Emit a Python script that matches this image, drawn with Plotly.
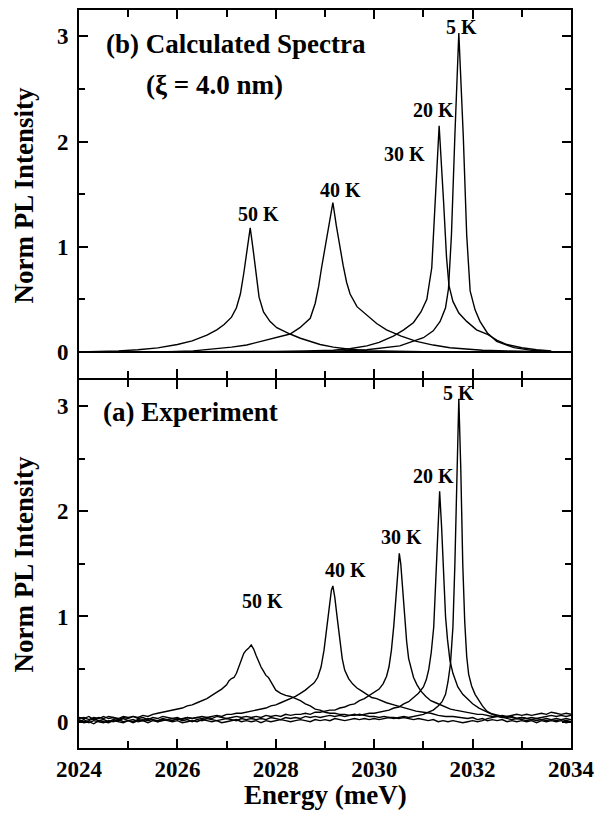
import plotly.graph_objects as go

# ---------------- data ----------------
# Calculated spectra (top panel, (b)) : (energy meV, norm PL intensity)
CALC_50K = [(2024.0, 0.0), (2024.4, 0.004), (2024.8, 0.01), (2025.2, 0.02), (2025.6, 0.038),
            (2026.0, 0.07), (2026.3, 0.105), (2026.6, 0.16), (2026.8, 0.21), (2026.95, 0.26),
            (2027.1, 0.33), (2027.2, 0.42), (2027.28, 0.55), (2027.35, 0.75), (2027.42, 0.97),
            (2027.48, 1.18), (2027.54, 0.97), (2027.6, 0.72), (2027.66, 0.52), (2027.75, 0.38),
            (2027.88, 0.29), (2028.02, 0.23), (2028.15, 0.2), (2028.29, 0.17), (2028.5, 0.13),
            (2028.7, 0.10), (2028.9, 0.07), (2029.17, 0.045), (2029.5, 0.025), (2029.85, 0.012),
            (2030.3, 0.006), (2031.0, 0.002), (2032.0, 0.0), (2033.5, 0.0)]
CALC_40K = [(2024.0, 0.0), (2025.0, 0.0), (2025.8, 0.003), (2026.32, 0.01), (2026.8, 0.03),
            (2027.1, 0.045), (2027.41, 0.066), (2027.8, 0.11), (2028.1, 0.15), (2028.29, 0.17),
            (2028.49, 0.23), (2028.7, 0.32), (2028.8, 0.46), (2028.87, 0.62), (2028.93, 0.80),
            (2029.0, 1.0), (2029.08, 1.22), (2029.16, 1.42), (2029.23, 1.2), (2029.3, 0.99),
            (2029.37, 0.82), (2029.44, 0.66), (2029.51, 0.55), (2029.65, 0.43), (2029.85, 0.35),
            (2030.05, 0.27), (2030.25, 0.21), (2030.55, 0.15), (2030.86, 0.10), (2031.2, 0.065),
            (2031.54, 0.04), (2031.9, 0.025), (2032.2, 0.015), (2032.7, 0.008), (2033.5, 0.003)]
CALC_20K = [(2024.0, 0.0), (2027.0, 0.0), (2028.0, 0.005), (2028.6, 0.008), (2029.17, 0.015),
            (2029.5, 0.03), (2029.85, 0.057), (2030.1, 0.09), (2030.39, 0.15), (2030.6, 0.21),
            (2030.8, 0.28), (2030.95, 0.38), (2031.07, 0.50), (2031.17, 0.80), (2031.24, 1.43),
            (2031.32, 2.15), (2031.41, 1.43), (2031.47, 0.9), (2031.52, 0.63), (2031.6, 0.48),
            (2031.72, 0.37), (2031.88, 0.29), (2032.08, 0.21), (2032.29, 0.17), (2032.5, 0.11),
            (2032.7, 0.07), (2033.0, 0.04), (2033.3, 0.02), (2033.6, 0.01)]
CALC_5K = [(2024.0, 0.0), (2029.0, 0.002), (2029.85, 0.02), (2030.52, 0.057), (2031.0, 0.135),
           (2031.2, 0.2), (2031.34, 0.29), (2031.45, 0.42), (2031.51, 0.6), (2031.57, 1.11),
           (2031.64, 2.06), (2031.72, 3.03), (2031.81, 2.06), (2031.88, 1.11), (2031.95, 0.58),
           (2032.05, 0.4), (2032.15, 0.29), (2032.3, 0.18), (2032.49, 0.10), (2032.84, 0.04),
           (2033.2, 0.015), (2033.55, 0.005)]

# Experimental spectra (bottom panel, (a))
EXP_5K = [(2024.0, 0.01), (2024.1, -0.01), (2024.2, 0.0), (2024.3, -0.02), (2024.4, 0.01), (2024.5, 0.0),
          (2024.6, -0.01), (2024.7, 0.01), (2024.8, 0.0), (2024.9, -0.01), (2025.0, 0.01), (2025.1, 0.02),
          (2025.2, 0.0), (2025.3, 0.01), (2025.4, -0.01), (2025.5, 0.01), (2025.6, 0.0), (2025.7, 0.02),
          (2025.8, 0.01), (2025.9, 0.0), (2026.0, 0.01), (2026.1, -0.01), (2026.2, 0.0), (2026.3, 0.01),
          (2026.4, 0.0), (2026.5, 0.02), (2026.6, 0.01), (2026.7, 0.0), (2026.8, 0.01), (2026.9, -0.01),
          (2027.0, 0.0), (2027.1, 0.01), (2027.2, 0.02), (2027.3, 0.0), (2027.4, 0.01), (2027.5, 0.0),
          (2027.6, 0.01), (2027.7, -0.01), (2027.8, 0.01), (2027.9, 0.0), (2028.0, 0.01), (2028.1, 0.02),
          (2028.2, 0.01), (2028.3, 0.0), (2028.4, 0.01), (2028.5, 0.02), (2028.6, 0.01), (2028.7, 0.0),
          (2028.8, 0.02), (2028.9, 0.01), (2029.0, 0.02), (2029.1, 0.01), (2029.2, 0.03), (2029.3, 0.02),
          (2029.4, 0.01), (2029.5, 0.02), (2029.6, 0.03), (2029.7, 0.02), (2029.8, 0.03), (2029.9, 0.02),
          (2030.0, 0.03), (2030.1, 0.02), (2030.2, 0.03), (2030.3, 0.04), (2030.4, 0.03), (2030.5, 0.04),
          (2030.6, 0.05), (2030.7, 0.04), (2030.8, 0.05), (2030.9, 0.06), (2031.0, 0.07), (2031.1, 0.09),
          (2031.2, 0.11), (2031.3, 0.15), (2031.38, 0.19), (2031.45, 0.26), (2031.5, 0.38), (2031.55, 0.55),
          (2031.6, 0.9), (2031.64, 1.5), (2031.68, 2.2), (2031.72, 3.07), (2031.76, 2.4), (2031.8, 1.5),
          (2031.84, 0.95), (2031.88, 0.62), (2031.92, 0.45), (2031.98, 0.34), (2032.05, 0.26), (2032.13, 0.2),
          (2032.2, 0.15), (2032.29, 0.1), (2032.4, 0.07), (2032.52, 0.05), (2032.6, 0.04), (2032.7, 0.03),
          (2032.8, 0.02), (2032.9, 0.03), (2033.0, 0.02), (2033.1, 0.01), (2033.2, 0.02), (2033.3, 0.01),
          (2033.4, 0.02), (2033.5, 0.01), (2033.6, 0.02), (2033.7, 0.01), (2033.8, 0.02), (2033.9, 0.01),
          (2034.0, 0.02)]
EXP_20K = [(2024.0, 0.02), (2024.1, 0.0), (2024.2, 0.01), (2024.3, 0.03), (2024.4, 0.01), (2024.5, 0.02),
           (2024.6, 0.0), (2024.7, 0.02), (2024.8, 0.01), (2024.9, 0.03), (2025.0, 0.01), (2025.1, 0.0),
           (2025.2, 0.02), (2025.3, 0.01), (2025.4, 0.03), (2025.5, 0.02), (2025.6, 0.0), (2025.7, 0.01),
           (2025.8, 0.02), (2025.9, 0.01), (2026.0, 0.03), (2026.1, 0.01), (2026.2, 0.02), (2026.3, 0.0),
           (2026.4, 0.02), (2026.5, 0.01), (2026.6, 0.03), (2026.7, 0.02), (2026.8, 0.01), (2026.9, 0.02),
           (2027.0, 0.03), (2027.1, 0.02), (2027.2, 0.01), (2027.3, 0.03), (2027.4, 0.02), (2027.5, 0.03),
           (2027.6, 0.02), (2027.7, 0.03), (2027.8, 0.02), (2027.9, 0.04), (2028.0, 0.03), (2028.1, 0.02),
           (2028.2, 0.04), (2028.3, 0.03), (2028.4, 0.04), (2028.5, 0.03), (2028.6, 0.05), (2028.7, 0.04),
           (2028.8, 0.05), (2028.9, 0.04), (2029.0, 0.05), (2029.1, 0.06), (2029.2, 0.05), (2029.3, 0.06),
           (2029.4, 0.05), (2029.5, 0.06), (2029.6, 0.07), (2029.7, 0.06), (2029.8, 0.07), (2029.9, 0.08),
           (2030.0, 0.08), (2030.1, 0.09), (2030.2, 0.10), (2030.3, 0.11), (2030.4, 0.13), (2030.5, 0.14),
           (2030.6, 0.17), (2030.7, 0.19), (2030.8, 0.23), (2030.9, 0.27), (2031.0, 0.33), (2031.06, 0.4),
           (2031.11, 0.5), (2031.16, 0.66), (2031.21, 0.9), (2031.25, 1.35), (2031.29, 1.8), (2031.33, 2.19),
           (2031.37, 1.85), (2031.41, 1.35), (2031.45, 1.0), (2031.49, 0.78), (2031.54, 0.58), (2031.6, 0.46),
           (2031.7, 0.33), (2031.8, 0.26), (2031.9, 0.21), (2032.0, 0.17), (2032.13, 0.13), (2032.25, 0.1),
           (2032.35, 0.08), (2032.45, 0.07), (2032.6, 0.05), (2032.7, 0.04), (2032.8, 0.05), (2032.9, 0.03),
           (2033.0, 0.04), (2033.1, 0.03), (2033.2, 0.02), (2033.3, 0.03), (2033.4, 0.02), (2033.5, 0.03),
           (2033.6, 0.02), (2033.7, 0.03), (2033.8, 0.02), (2033.9, 0.03), (2034.0, 0.02)]
EXP_30K = [(2024.0, 0.04), (2024.1, 0.03), (2024.2, 0.05), (2024.3, 0.02), (2024.4, 0.04), (2024.5, 0.03),
           (2024.6, 0.05), (2024.7, 0.04), (2024.8, 0.02), (2024.9, 0.04), (2025.0, 0.03), (2025.1, 0.05),
           (2025.2, 0.03), (2025.3, 0.04), (2025.4, 0.02), (2025.5, 0.04), (2025.6, 0.03), (2025.7, 0.05),
           (2025.8, 0.04), (2025.9, 0.03), (2026.0, 0.04), (2026.1, 0.02), (2026.2, 0.04), (2026.3, 0.03),
           (2026.4, 0.04), (2026.5, 0.03), (2026.6, 0.04), (2026.7, 0.03), (2026.8, 0.05), (2026.9, 0.04),
           (2027.0, 0.03), (2027.1, 0.04), (2027.2, 0.05), (2027.3, 0.04), (2027.4, 0.05), (2027.5, 0.04),
           (2027.6, 0.05), (2027.7, 0.04), (2027.8, 0.06), (2027.9, 0.05), (2028.0, 0.06), (2028.1, 0.05),
           (2028.2, 0.07), (2028.3, 0.06), (2028.4, 0.07), (2028.5, 0.07), (2028.6, 0.08), (2028.7, 0.07),
           (2028.8, 0.09), (2028.9, 0.09), (2029.0, 0.10), (2029.1, 0.11), (2029.2, 0.11), (2029.3, 0.13),
           (2029.4, 0.14), (2029.5, 0.16), (2029.6, 0.17), (2029.7, 0.20), (2029.8, 0.22), (2029.9, 0.25),
           (2030.0, 0.28), (2030.1, 0.31), (2030.18, 0.36), (2030.25, 0.43), (2030.3, 0.52), (2030.35, 0.68),
           (2030.4, 0.92), (2030.44, 1.2), (2030.48, 1.48), (2030.51, 1.60), (2030.54, 1.5), (2030.58, 1.25),
           (2030.62, 0.98), (2030.66, 0.76), (2030.7, 0.6), (2030.75, 0.5), (2030.8, 0.42), (2030.87, 0.35),
           (2030.95, 0.29), (2031.05, 0.24), (2031.15, 0.2), (2031.25, 0.18), (2031.35, 0.16), (2031.45, 0.14),
           (2031.55, 0.12), (2031.65, 0.11), (2031.75, 0.1), (2031.85, 0.09), (2031.95, 0.08), (2032.1, 0.07),
           (2032.2, 0.07), (2032.3, 0.06), (2032.4, 0.05), (2032.5, 0.05), (2032.6, 0.04), (2032.7, 0.05),
           (2032.8, 0.04), (2032.9, 0.03), (2033.0, 0.04), (2033.1, 0.03), (2033.2, 0.04), (2033.3, 0.03),
           (2033.4, 0.04), (2033.5, 0.05), (2033.6, 0.06), (2033.7, 0.05), (2033.8, 0.06), (2033.9, 0.05),
           (2034.0, 0.06)]
EXP_40K = [(2024.0, 0.0), (2024.1, 0.02), (2024.2, -0.01), (2024.3, 0.01), (2024.4, 0.0), (2024.5, -0.01),
           (2024.6, 0.01), (2024.7, 0.0), (2024.8, 0.02), (2024.9, 0.0), (2025.0, 0.01), (2025.1, -0.01),
           (2025.2, 0.01), (2025.3, 0.02), (2025.4, 0.01), (2025.5, 0.02), (2025.6, 0.01), (2025.7, 0.03),
           (2025.8, 0.02), (2025.9, 0.03), (2026.0, 0.02), (2026.1, 0.03), (2026.2, 0.04), (2026.3, 0.03),
           (2026.4, 0.04), (2026.5, 0.05), (2026.6, 0.04), (2026.7, 0.05), (2026.8, 0.06), (2026.9, 0.05),
           (2027.0, 0.07), (2027.1, 0.07), (2027.2, 0.08), (2027.3, 0.08), (2027.4, 0.09), (2027.5, 0.10),
           (2027.6, 0.11), (2027.7, 0.12), (2027.8, 0.13), (2027.9, 0.15), (2028.0, 0.16), (2028.1, 0.18),
           (2028.2, 0.2), (2028.3, 0.22), (2028.4, 0.24), (2028.5, 0.27), (2028.6, 0.3), (2028.7, 0.34),
           (2028.78, 0.37), (2028.85, 0.42), (2028.92, 0.52), (2028.98, 0.68), (2029.03, 0.88), (2029.08, 1.08),
           (2029.13, 1.25), (2029.16, 1.29), (2029.2, 1.18), (2029.25, 0.98), (2029.3, 0.78), (2029.35, 0.6),
           (2029.4, 0.49), (2029.48, 0.41), (2029.56, 0.36), (2029.65, 0.32), (2029.75, 0.29), (2029.85, 0.26),
           (2029.95, 0.23), (2030.05, 0.22), (2030.15, 0.2), (2030.25, 0.18), (2030.4, 0.16), (2030.55, 0.14),
           (2030.7, 0.12), (2030.85, 0.1), (2031.0, 0.09), (2031.15, 0.08), (2031.3, 0.06), (2031.45, 0.05),
           (2031.6, 0.05), (2031.75, 0.04), (2031.9, 0.03), (2032.0, 0.04), (2032.1, 0.02), (2032.2, 0.03),
           (2032.3, 0.01), (2032.4, 0.02), (2032.5, 0.01), (2032.6, 0.02), (2032.7, 0.0), (2032.8, 0.01),
           (2032.9, 0.0), (2033.0, 0.01), (2033.1, 0.0), (2033.2, 0.01), (2033.3, -0.01), (2033.4, 0.01),
           (2033.5, 0.0), (2033.6, 0.01), (2033.7, 0.0), (2033.8, 0.01), (2033.9, -0.01), (2034.0, 0.0)]
EXP_50K = [(2024.0, 0.03), (2024.1, 0.04), (2024.2, 0.02), (2024.3, 0.04), (2024.4, 0.03), (2024.5, 0.05),
           (2024.6, 0.03), (2024.7, 0.04), (2024.8, 0.03), (2024.9, 0.05), (2025.0, 0.04), (2025.1, 0.05),
           (2025.2, 0.04), (2025.3, 0.06), (2025.4, 0.05), (2025.5, 0.07), (2025.6, 0.08), (2025.7, 0.09),
           (2025.8, 0.1), (2025.9, 0.11), (2026.0, 0.12), (2026.1, 0.13), (2026.2, 0.15), (2026.3, 0.16),
           (2026.4, 0.18), (2026.5, 0.20), (2026.6, 0.22), (2026.7, 0.25), (2026.8, 0.28), (2026.9, 0.31),
           (2027.0, 0.35), (2027.05, 0.39), (2027.1, 0.41), (2027.15, 0.42), (2027.2, 0.46), (2027.25, 0.52),
           (2027.3, 0.59), (2027.35, 0.65), (2027.4, 0.68), (2027.45, 0.70), (2027.5, 0.73), (2027.55, 0.69),
           (2027.6, 0.63), (2027.65, 0.57), (2027.7, 0.52), (2027.75, 0.48), (2027.8, 0.44), (2027.85, 0.42),
           (2027.9, 0.38), (2027.95, 0.34), (2028.0, 0.30), (2028.1, 0.27), (2028.2, 0.25), (2028.3, 0.24),
           (2028.4, 0.22), (2028.5, 0.2), (2028.6, 0.17), (2028.7, 0.15), (2028.8, 0.12), (2028.9, 0.11),
           (2029.0, 0.09), (2029.1, 0.08), (2029.2, 0.08), (2029.3, 0.07), (2029.4, 0.07), (2029.5, 0.06),
           (2029.6, 0.06), (2029.7, 0.07), (2029.8, 0.06), (2029.9, 0.05), (2030.0, 0.05), (2030.1, 0.04),
           (2030.2, 0.05), (2030.3, 0.04), (2030.4, 0.04), (2030.5, 0.03), (2030.6, 0.04), (2030.7, 0.03),
           (2030.8, 0.02), (2030.9, 0.03), (2031.0, 0.02), (2031.1, 0.01), (2031.2, 0.02), (2031.3, 0.0),
           (2031.4, 0.01), (2031.5, 0.0), (2031.6, 0.01), (2031.7, 0.0), (2031.8, -0.01), (2031.9, 0.0),
           (2032.0, 0.01), (2032.1, 0.0), (2032.2, 0.01), (2032.3, 0.03), (2032.4, 0.04), (2032.5, 0.05),
           (2032.6, 0.06), (2032.7, 0.05), (2032.8, 0.06), (2032.9, 0.07), (2033.0, 0.06), (2033.1, 0.07),
           (2033.2, 0.06), (2033.3, 0.07), (2033.4, 0.08), (2033.5, 0.07), (2033.6, 0.09), (2033.7, 0.08),
           (2033.8, 0.07), (2033.9, 0.08), (2034.0, 0.07)]

CALC_SERIES = {"50 K": CALC_50K, "40 K": CALC_40K, "20 K": CALC_20K, "5 K": CALC_5K}
EXP_SERIES = {"50 K": EXP_50K, "40 K": EXP_40K, "30 K": EXP_30K, "20 K": EXP_20K, "5 K": EXP_5K}

# Curve labels: (text, energy, intensity)
CALC_LABELS = [("50 K", 2027.64, 1.31), ("40 K", 2029.31, 1.54), ("30 K", 2030.62, 1.885),
               ("20 K", 2031.2, 2.30), ("5 K", 2031.78, 3.085)]
EXP_LABELS = [("50 K", 2027.72, 1.15), ("40 K", 2029.42, 1.44), ("30 K", 2030.56, 1.76),
              ("20 K", 2031.2, 2.34), ("5 K", 2031.71, 3.12)]

X_TICKS = [2024, 2026, 2028, 2030, 2032, 2034]
X_TICKTEXT = ["2024", "2026", "2028", "2030", "2032", "2034"]
Y_TICKS = [0, 1, 2, 3]
Y_TICKTEXT = ["0", "1", "2", "3"]
X_RANGE = [2024, 2034]
Y_RANGE = [-0.25, 3.25]

FONT = "Liberation Serif, Times New Roman, serif"
LW = 1.6  # frame line width
GAP = (LW / 2) / 740.0  # keeps the two frames' shared edge a single line

# ---------------- figure ----------------
fig = go.Figure()

for name, pts in EXP_SERIES.items():
    fig.add_trace(go.Scatter(x=[p[0] for p in pts], y=[p[1] for p in pts], mode="lines",
                             line=dict(color="black", width=1.4), name="exp " + name,
                             xaxis="x", yaxis="y", showlegend=False))
for name, pts in CALC_SERIES.items():
    fig.add_trace(go.Scatter(x=[p[0] for p in pts], y=[p[1] for p in pts], mode="lines",
                             line=dict(color="black", width=1.4), name="calc " + name,
                             xaxis="x2", yaxis="y2", showlegend=False))

LABEL_FONT = dict(family=FONT, size=20, color="black")
PANEL_FONT = dict(family=FONT, size=27, color="black")
TITLE_FONT = dict(family=FONT, size=27, color="black")
TICK_FONT = dict(family=FONT, size=23, color="black", weight="bold")

ann = []
for t, x, y in CALC_LABELS:
    ann.append(dict(text="<b>%s</b>" % t, x=x, y=y, xref="x2", yref="y2", showarrow=False,
                    xanchor="center", yanchor="middle", font=LABEL_FONT))
for t, x, y in EXP_LABELS:
    ann.append(dict(text="<b>%s</b>" % t, x=x, y=y, xref="x", yref="y", showarrow=False,
                    xanchor="center", yanchor="middle", font=LABEL_FONT))
ann.append(dict(text="<b>(b) Calculated Spectra</b>", x=2024.5, y=2.93, xref="x2", yref="y2",
                showarrow=False, xanchor="left", yanchor="middle", font=PANEL_FONT))
ann.append(dict(text="<b>(\u03be = 4.0 nm)</b>", x=2025.32, y=2.535, xref="x2", yref="y2",
                showarrow=False, xanchor="left", yanchor="middle", font=PANEL_FONT))
ann.append(dict(text="<b>(a) Experiment</b>", x=2024.45, y=2.94, xref="x", yref="y",
                showarrow=False, xanchor="left", yanchor="middle", font=PANEL_FONT))
for yc in (0.25, 0.75):
    ann.append(dict(text="<b>Norm PL Intensity</b>", x=-0.112, y=yc, xref="paper", yref="paper",
                    showarrow=False, textangle=-90, xanchor="center", yanchor="middle",
                    font=TITLE_FONT))
ann.append(dict(text="<b>Energy (meV)</b>", x=0.5, y=-0.064, xref="paper", yref="paper",
                showarrow=False, xanchor="center", yanchor="middle", font=TITLE_FONT))

xcommon = dict(range=X_RANGE, showgrid=False, zeroline=False, showline=True, linecolor="black",
               linewidth=LW, mirror="ticks", ticks="inside", ticklen=9, tickwidth=1.6,
               tickcolor="black", tickvals=X_TICKS, ticktext=["<b>%s</b>" % t for t in X_TICKTEXT],
               tickfont=TICK_FONT,
               minor=dict(dtick=1, ticks="inside", ticklen=7, tickwidth=1.6, tickcolor="black"))
ycommon = dict(range=Y_RANGE, showgrid=False, showline=True, linecolor="black",
               linewidth=LW, mirror="ticks", ticks="inside", ticklen=9, tickwidth=1.6,
               tickcolor="black", tickvals=Y_TICKS, ticktext=["<b>%s</b>" % t for t in Y_TICKTEXT],
               tickfont=TICK_FONT, ticklabelstandoff=4,
               minor=dict(dtick=0.5, ticks="inside", ticklen=6, tickwidth=1.6, tickcolor="black"))

fig.update_layout(
    width=605, height=818,
    margin=dict(l=79, r=34, t=8, b=70),
    paper_bgcolor="white", plot_bgcolor="white",
    font=dict(family=FONT, color="black"),
    xaxis=dict(**xcommon, anchor="y", showticklabels=True),
    xaxis2=dict(**xcommon, anchor="y2", matches="x", showticklabels=False),
    yaxis=dict(**ycommon, domain=[0, 0.5 - GAP], anchor="x", zeroline=False),
    yaxis2=dict(**ycommon, domain=[0.5 + GAP, 1], anchor="x2", zeroline=True,
                zerolinecolor="black", zerolinewidth=2),
    annotations=ann,
    showlegend=False,
)

fig.write_html("out.html")
